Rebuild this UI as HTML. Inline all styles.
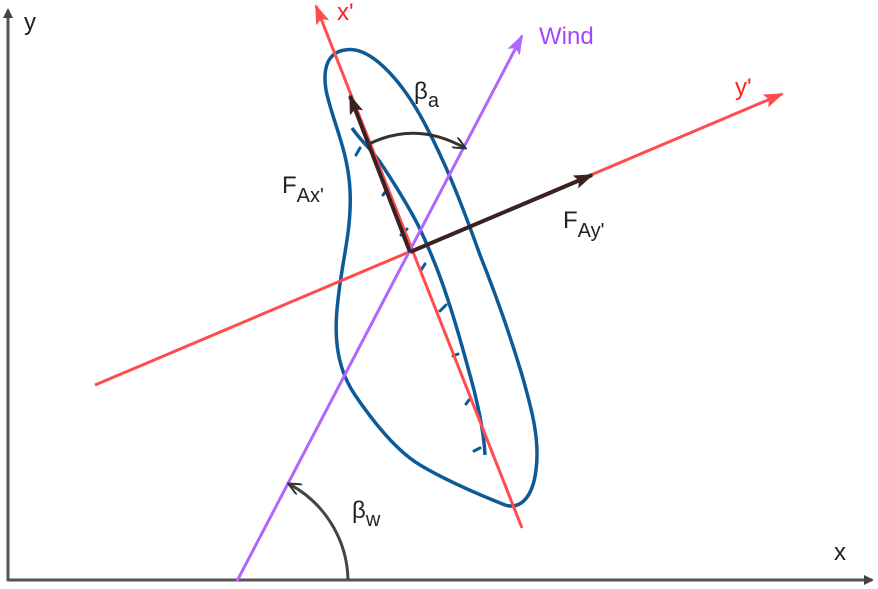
<!DOCTYPE html>
<html><head><style>html,body{margin:0;padding:0;background:#fff}svg{display:block}text{font-family:"Liberation Sans",sans-serif;font-size:24px}</style></head><body>
<svg width="878" height="589" viewBox="0 0 878 589" xmlns="http://www.w3.org/2000/svg">
<defs>
<marker id="ag" markerWidth="10" markerHeight="10" refX="8" refY="5" orient="auto" markerUnits="userSpaceOnUse"><path d="M0,0 L10,5 L0,10 Z" fill="#444"/></marker>
<marker id="ar" markerWidth="20" markerHeight="14" refX="18" refY="7" orient="auto" markerUnits="userSpaceOnUse"><path d="M0,0 L20,7 L0,14 L4,7Z" fill="#ff4d4d"/></marker>
<marker id="ap" markerWidth="20" markerHeight="14" refX="18" refY="7" orient="auto" markerUnits="userSpaceOnUse"><path d="M0,0 L20,7 L0,14 L4,7Z" fill="#b266ff"/></marker>
<marker id="ad" markerWidth="20" markerHeight="14" refX="18" refY="7" orient="auto" markerUnits="userSpaceOnUse"><path d="M0,0 L20,7 L0,14 L4,7Z" fill="#3a2222"/></marker>
<marker id="ak" markerWidth="14" markerHeight="12" refX="12" refY="6" orient="auto" markerUnits="userSpaceOnUse"><path d="M0,0 L13,6 L0,12" fill="none" stroke="#333" stroke-width="2"/></marker>
</defs>
<line x1="8" y1="581" x2="8" y2="10" stroke="#555" stroke-width="3" marker-end="url(#ag)"/>
<line x1="7" y1="580" x2="872" y2="580" stroke="#555" stroke-width="3" marker-end="url(#ag)"/>
<path d="M352,128 C360,140 372,150 380,162 C392,180 405,200 418,225 C430,250 440,275 448,300 C458,330 466,360 474,390 C480,415 484,435 485,455" fill="none" stroke="#0d5a96" stroke-width="3.5"/>
<path d="M345,50 C330,52 322,65 326,90 C332,120 348,150 350,190 C352,230 342,260 338,300 C333,340 338,370 355,395 C372,420 395,450 420,465 C445,480 480,495 505,505 C522,510 533,495 536,470 C540,440 532,410 522,375 C510,335 498,300 480,255 C462,205 445,160 420,115 C400,80 370,45 345,50Z" fill="none" stroke="#0d5a96" stroke-width="3.5"/>
<g stroke="#0d5a96" stroke-width="3" stroke-linecap="round">
<line x1="356" y1="155" x2="360" y2="148"/><line x1="383" y1="195" x2="388" y2="188"/><line x1="401" y1="235" x2="407" y2="229"/><line x1="421" y1="270" x2="425" y2="264"/><line x1="440" y1="311" x2="446" y2="305"/><line x1="453" y1="356" x2="458" y2="354"/><line x1="466" y1="404" x2="469" y2="400"/><line x1="474" y1="451" x2="480" y2="448"/>
</g>
<line x1="522" y1="528" x2="316" y2="6" stroke="#ff4d4d" stroke-width="3" marker-end="url(#ar)"/>
<line x1="95" y1="385" x2="782" y2="94" stroke="#ff4d4d" stroke-width="3" marker-end="url(#ar)"/>
<line x1="237" y1="581" x2="522" y2="36" stroke="#b266ff" stroke-width="3" marker-end="url(#ap)"/>
<line x1="410" y1="252" x2="350" y2="96" stroke="#3a2222" stroke-width="4" marker-end="url(#ad)"/>
<line x1="410" y1="252" x2="592" y2="175" stroke="#3a2222" stroke-width="4" marker-end="url(#ad)"/>
<path d="M367,145 Q415,120 465,148" fill="none" stroke="#333" stroke-width="3" marker-end="url(#ak)"/>
<path d="M348,580 A111,111 0 0 0 289,484" fill="none" stroke="#444" stroke-width="3" marker-end="url(#ak)"/>
<text x="24" y="30" fill="#222">y</text>
<text x="834" y="560" fill="#222">x</text>
<text x="337" y="20" fill="#ff2020">x'</text>
<text x="539" y="44" fill="#a347ff">Wind</text>
<text x="735" y="95" fill="#ff2020">y'</text>
<text x="414" y="99" fill="#222">β<tspan dy="8" font-size="20">a</tspan></text>
<text x="282" y="193" fill="#222">F<tspan dy="9" font-size="20">Ax'</tspan></text>
<text x="563" y="228" fill="#222">F<tspan dy="9" font-size="20">Ay'</tspan></text>
<text x="352" y="518" fill="#222">β<tspan dy="8" font-size="20">w</tspan></text>
</svg>
</body></html>
